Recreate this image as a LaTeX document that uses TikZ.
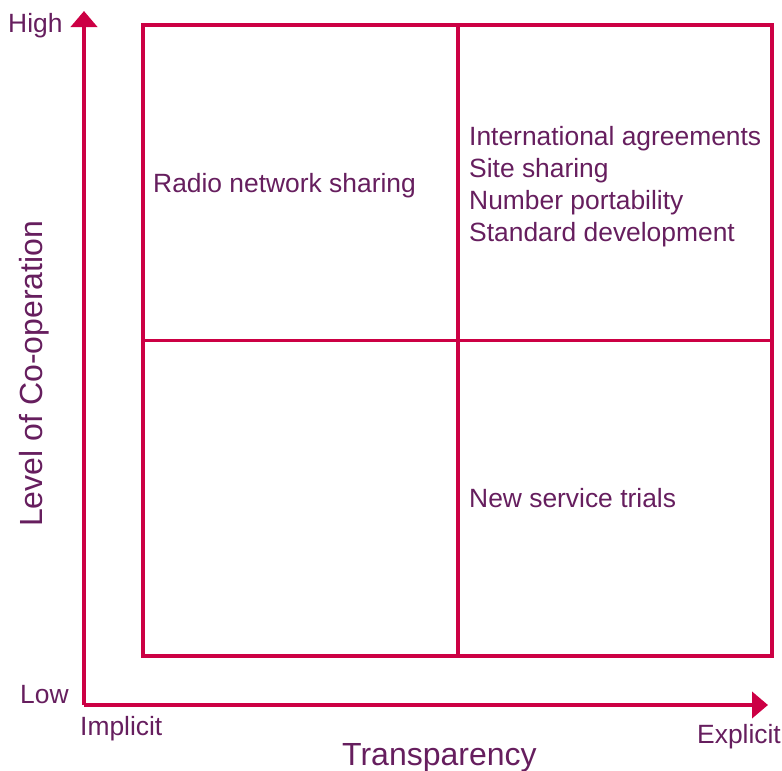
\documentclass[tikz,border=0pt]{standalone}
\usepackage{fontspec}
\setmainfont{Liberation Sans}
\usetikzlibrary{arrows.meta}
\definecolor{gridred}{RGB}{204,0,68}
\definecolor{labelpurple}{RGB}{102,30,94}
\begin{document}
\begin{tikzpicture}[x=1pt,y=-1pt,
  gridline/.style={draw=gridred,line width=3.9pt},
  axisline/.style={draw=gridred,line width=4pt,-{Triangle[length=16pt,width=26pt]}},
  lbl/.style={text=labelpurple,inner sep=0pt,anchor=base west,font=\fontsize{26.4}{32}\selectfont},
  axtitle/.style={text=labelpurple,inner sep=0pt,anchor=base west,font=\fontsize{32}{38}\selectfont}]
\useasboundingbox (0,0) rectangle (782,771);

% quadrant grid
\coordinate (tl) at (143,25.3);
\coordinate (br) at (772,656);
\draw[gridline] (tl) rectangle (br);
\draw[gridline] (458,25.3) -- (458,656);
\draw[gridline] (143,340.5) -- (772,340.5);

% axes
\coordinate (origin) at (84,705);
\coordinate (ytip) at (84,11);
\coordinate (xtip) at (768,705);
\draw[axisline] (origin) -- (ytip);
\draw[axisline] (origin) -- (xtip);

% axis labels
\node[lbl] (high) at (8,32) {High};
\node[lbl] (low) at (20,703) {Low};
\node[lbl] (implicit) at (80,735) {Implicit};
\node[lbl] (explicit) at (697,743) {Explicit};
\node[axtitle] (xtitle) at (342,765) {Transparency};
\node[axtitle,rotate=90] (ytitle) at (42,527) {Level of Co-operation};

% quadrant contents
\node[lbl] (radio) at (153,192) {Radio network sharing};
\node[lbl] (intl) at (469,145) {International agreements};
\node[lbl] (site) at (469,177) {Site sharing};
\node[lbl] (number) at (469,209) {Number portability};
\node[lbl] (standard) at (469,241) {Standard development};
\node[lbl] (trials) at (469,507) {New service trials};
\end{tikzpicture}
\end{document}
